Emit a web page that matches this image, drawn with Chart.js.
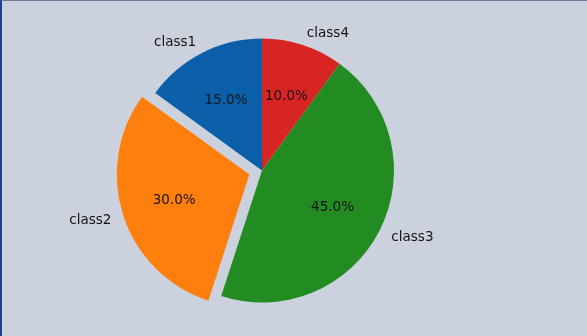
<!DOCTYPE html>
<html>
<head>
<meta charset="utf-8">
<script src="https://cdn.jsdelivr.net/npm/chart.js@4"></script>
<style>
  html, body { margin: 0; padding: 0; background: #cbd2dd; }
  #wrap { position: relative; width: 587px; height: 336px; box-sizing: border-box;
          border-left: 2px solid #1d3f8e; border-top: 1px solid #6b7c9c; }
  canvas { display: block; }
</style>
</head>
<body>
<div id="wrap"><canvas id="c" width="585" height="335"></canvas></div>
<script>
// Matplotlib order (counter-clockwise from top)
const categories = ['class1', 'class2', 'class3', 'class4'];
const values = [15, 30, 45, 10];
const explode = [0, 0.1, 0, 0];
const colors = ['#0a5fa8', '#ff7f0e', '#228b22', '#d92424'];

// Chart.js draws clockwise from top, so reverse
const cjLabels = categories.slice().reverse();
const cjValues = values.slice().reverse();
const cjExplode = explode.slice().reverse();
const cjColors = colors.slice().reverse();

const R = 132;

const labelPlugin = {
  id: 'mplLabels',
  afterDatasetsDraw(chart) {
    const ctx = chart.ctx;
    const meta = chart.getDatasetMeta(0);
    const total = cjValues.reduce((a, b) => a + b, 0);
    ctx.save();
    ctx.font = '13.5px "DejaVu Sans", sans-serif';
    ctx.fillStyle = '#141414';
    ctx.textBaseline = 'middle';
    meta.data.forEach((arc, i) => {
      const p = arc.getProps(['x', 'y', 'startAngle', 'endAngle', 'outerRadius'], true);
      const mid = (p.startAngle + p.endAngle) / 2;
      const off = cjExplode[i] * p.outerRadius;
      const cx = p.x + Math.cos(mid) * off;
      const cy = p.y + Math.sin(mid) * off + 1;
      const dx = Math.cos(mid), dy = Math.sin(mid);
      ctx.textAlign = 'center';
      const pct = (cjValues[i] / total * 100).toFixed(1) + '%';
      ctx.fillText(pct, cx + dx * 0.6 * p.outerRadius, cy + dy * 0.6 * p.outerRadius);
      ctx.textAlign = dx > 0 ? 'left' : 'right';
      ctx.fillText(cjLabels[i], cx + dx * 1.1 * p.outerRadius, cy + dy * 1.1 * p.outerRadius);
    });
    ctx.restore();
  }
};

new Chart(document.getElementById('c'), {
  type: 'pie',
  data: {
    labels: cjLabels,
    datasets: [{
      data: cjValues,
      backgroundColor: cjColors,
      borderWidth: 0,
      // Chart.js v4 divides the arc offset by 4 when drawing
      offset: cjExplode.map(e => e * R * 4)
    }]
  },
  options: {
    responsive: false,
    animation: false,
    radius: R,
    layout: { padding: { left: 0, right: 65, top: 4, bottom: 0 } },
    plugins: { legend: { display: false }, tooltip: { enabled: false } }
  },
  plugins: [labelPlugin]
});
</script>
</body>
</html>
